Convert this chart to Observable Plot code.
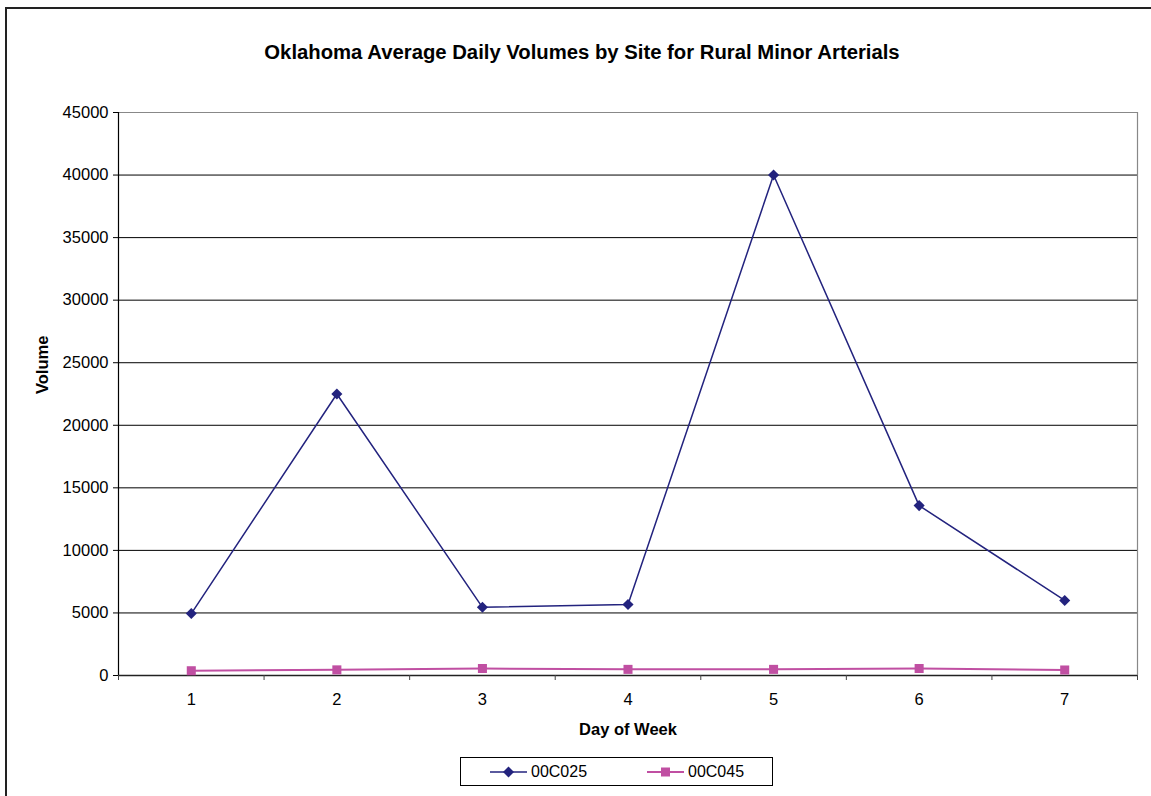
<!DOCTYPE html>
<html><head><meta charset="utf-8">
<script src="https://cdn.jsdelivr.net/npm/d3@7"></script>
<script src="https://cdn.jsdelivr.net/npm/@observablehq/plot@0.6"></script>
<style>
body{margin:0;background:#fff;overflow:hidden;font-family:"Liberation Sans",Arial,sans-serif;width:1151px;height:796px;}
#frame{position:absolute;left:5px;top:7px;width:1300px;height:900px;border:2px solid #222;}
#chart{position:absolute;left:0;top:0;}
#title{position:absolute;top:40px;left:0;width:1164px;text-align:center;font-weight:bold;font-size:20.3px;line-height:24px;color:#000;}
#legend{position:absolute;left:460px;top:757px;width:313px;height:29px;border:1px solid #000;box-sizing:border-box;background:#fff;}
.item{position:absolute;top:4px;font-size:16px;line-height:20px;display:flex;align-items:center;}
.item svg{margin-right:4px;}
</style></head><body>
<div id="frame"></div>
<div id="chart"></div>
<div id="title">Oklahoma Average Daily Volumes by Site for Rural Minor Arterials</div>
<div id="legend"></div>
<script>
const titleText = "Oklahoma Average Daily Volumes by Site for Rural Minor Arterials";
const days = [1, 2, 3, 4, 5, 6, 7];
const series = ["00C025", "00C045"];
const vol00C025 = [4950, 22500, 5450, 5670, 40000, 13580, 6000];
const vol00C045 = [380, 450, 560, 490, 490, 560, 440];
const yTicks = [0, 5000, 10000, 15000, 20000, 25000, 30000, 35000, 40000, 45000];
const colors = ["#23237e", "#c04fa2"];
const symbols = ["diamond2", "square"];

const d025 = days.map((d, i) => ({day: d, v: vol00C025[i]}));
const d045 = days.map((d, i) => ({day: d, v: vol00C045[i]}));
const bounds = d3.range(0.5, 7.6, 1);

const plot = Plot.plot({
  width: 1151,
  height: 796,
  marginLeft: 118,
  marginRight: 14,
  marginTop: 112,
  marginBottom: 121,
  style: {fontFamily: "Liberation Sans, Arial, sans-serif", fontSize: "16.5px", background: "transparent", color: "#000"},
  x: {type: "linear", domain: [0.5, 7.5]},
  y: {domain: [0, 45000]},
  marks: [
    Plot.ruleY(yTicks.filter(t => t > 0 && t < 45000), {stroke: "#000", strokeWidth: 1}),
    Plot.ruleY([45000], {stroke: "#888", strokeWidth: 1.2}),
    Plot.ruleX([7.5], {stroke: "#888", strokeWidth: 1.2}),
    Plot.ruleX([0.5], {stroke: "#000", strokeWidth: 1.2}),
    Plot.ruleY([0], {stroke: "#222", strokeWidth: 1.5}),
    Plot.axisY(yTicks, {tickSize: 5, tickPadding: 5, tickFormat: d => String(d), fontSize: 16.5, label: null, stroke: "#000"}),
    Plot.axisX(bounds, {tickSize: 5, tickFormat: () => "", label: null, stroke: "#444"}),
    Plot.axisX(days, {tickSize: 0, tickPadding: 18, tickFormat: d => String(d), fontSize: 16.5, label: null}),
    Plot.text(["Volume"], {frameAnchor: "left", dx: -76, rotate: -90, fontWeight: "bold", fontSize: 16.5}),
    Plot.text(["Day of Week"], {frameAnchor: "bottom", dy: 59, fontWeight: "bold", fontSize: 16.5}),
    Plot.line(d025, {x: "day", y: "v", stroke: colors[0], strokeWidth: 1.5}),
    Plot.line(d045, {x: "day", y: "v", stroke: colors[1], strokeWidth: 2}),
    Plot.dot(d025, {x: "day", y: "v", symbol: symbols[0], r: 5, fill: colors[0], stroke: "none"}),
    Plot.dot(d045, {x: "day", y: "v", symbol: symbols[1], r: 5.1, fill: colors[1], stroke: "none"})
  ]
});
document.getElementById("chart").appendChild(plot);

// legend
const legend = document.getElementById("legend");
const lefts = [29, 186];
series.forEach((s, i) => {
  const item = document.createElement("div");
  item.className = "item";
  item.style.left = lefts[i] + "px";
  const sw = d3.create("svg").attr("width", 37).attr("height", 12);
  sw.append("line").attr("x1", 0).attr("x2", 37).attr("y1", 6).attr("y2", 6).attr("stroke", colors[i]).attr("stroke-width", i ? 2 : 1.5);
  const sym = i ? d3.symbolSquare : d3.symbolDiamond2;
  sw.append("path").attr("transform", "translate(18.5,6)").attr("d", d3.symbol(sym, i ? 81 : 77)()).attr("fill", colors[i]);
  item.appendChild(sw.node());
  const t = document.createElement("span");
  t.textContent = s;
  item.appendChild(t);
  legend.appendChild(item);
});
</script>
</body></html>
